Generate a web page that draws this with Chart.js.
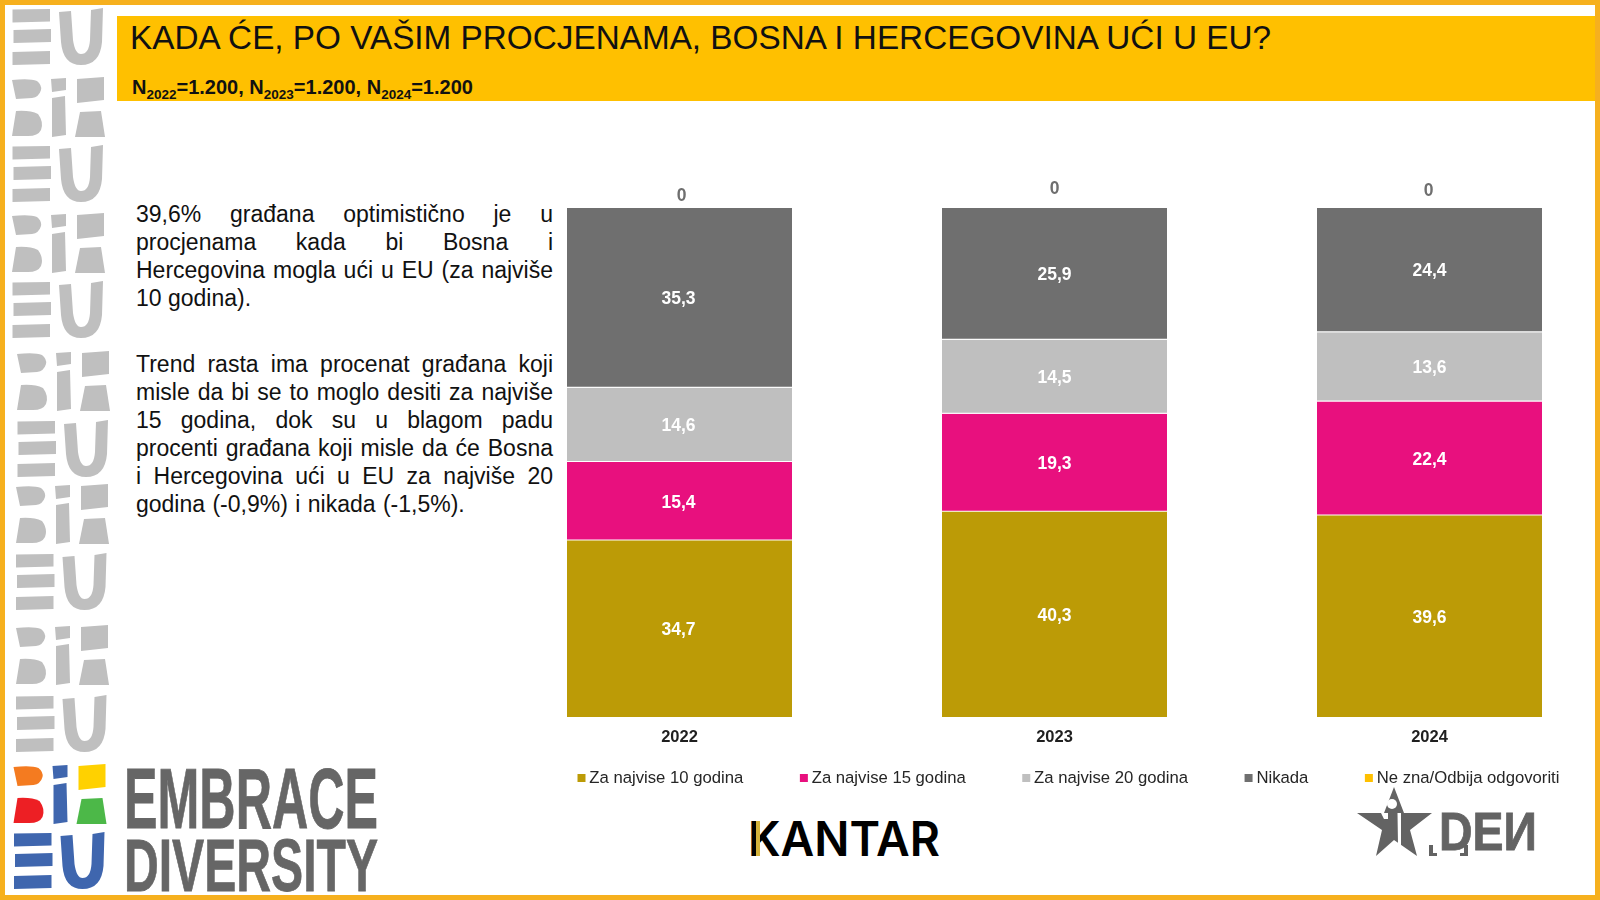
<!DOCTYPE html>
<html>
<head>
<meta charset="utf-8">
<title>Kada će BiH ući u EU</title>
<script src="https://cdn.jsdelivr.net/npm/chart.js@4"></script>
<style>
  html, body { margin: 0; padding: 0; width: 1600px; height: 900px; overflow: hidden; background: #fff; font-family: "Liberation Sans", Arial, sans-serif; }
  #frame { position: absolute; left: 0; top: 0; width: 1590px; height: 890px; border: 5px solid #F6B01E; }
  #header { position: absolute; left: 117px; top: 16px; width: 1478px; height: 85px; background: #FFC000; }
  #title { position: absolute; left: 13px; top: 3px; font-size: 33.3px; line-height: 38px; color: #111; white-space: nowrap; }
  #subtitle { position: absolute; left: 15px; top: 59px; font-size: 20px; line-height: 24px; font-weight: bold; color: #111; white-space: nowrap; }
  #subtitle sub { font-size: 13.5px; line-height: 0; }
  #note { position: absolute; left: 136px; top: 200px; width: 417px; font-size: 23px; line-height: 28px; color: #111; }
  #note span { display: block; white-space: nowrap; }
  #note span.j { white-space: normal; text-align: justify; text-align-last: justify; }
  #note .gap { height: 38px; }
  #deco { position: absolute; left: 0; top: 0; }
  #chartWrap { position: absolute; left: 492px; top: 0; width: 1200px; height: 900px; }
</style>
</head>
<body>
<div id="frame"></div>
<div id="header">
  <div id="title">KADA ĆE, PO VAŠIM PROCJENAMA, BOSNA I HERCEGOVINA UĆI U EU?</div>
  <div id="subtitle">N<sub>2022</sub>=1.200, N<sub>2023</sub>=1.200, N<sub>2024</sub>=1.200</div>
</div>
<div id="note">
  <span class="j">39,6% građana optimistično je u</span>
  <span class="j">procjenama kada bi Bosna i</span>
  <span class="j">Hercegovina mogla ući u EU (za najviše</span>
  <span>10 godina).</span>
  <div class="gap"></div>
  <span class="j">Trend rasta ima procenat građana koji</span>
  <span class="j">misle da bi se to moglo desiti za najviše</span>
  <span class="j">15 godina, dok su u blagom padu</span>
  <span class="j">procenti građana koji misle da će Bosna</span>
  <span class="j">i Hercegovina ući u EU za najviše 20</span>
  <span style="word-spacing:1px">godina (-0,9%) i nikada (-1,5%).</span>
</div>

<svg id="deco" width="1600" height="900" xmlns="http://www.w3.org/2000/svg">
  <defs>
    <g id="eu">
      <path d="M12.5 9.5L50 9V21.5L12.5 22.5Z M13.5 30L51 29V42L13.5 43Z M12.5 52L50 51V64L12.5 65Z"/>
      <path d="M59 12L71 11L73 40Q75 54 81 54Q89 54 90 40L91 10L103 8L102 42Q100 65 81 65Q63 65 61 42Z"/>
    </g>
    <g id="bih">
      <path d="M12 80Q30 78 37 81Q42 85 41 90Q39 97 32 98L16 99Z M16 111Q30 110 38 114Q44 122 41 130Q38 136 28 136L12 136Z"/>
      <path d="M51 79L66 78V90L52 92Z M52 98L65 96L66 135L52 137Z"/>
      <path d="M77 79L104 77V100L77 103Z"/>
      <path d="M80 112L101 111L105 137H75Z"/>
    </g>
  </defs>
  <g fill="#BFBFBF">
    <use href="#eu"/>
    <use href="#bih"/>
    <use href="#eu" y="137"/>
    <use href="#bih" y="136"/>
    <use href="#eu" y="273"/>
    <use href="#bih" x="5" y="274"/>
    <use href="#eu" x="5" y="412"/>
    <use href="#bih" x="4" y="407"/>
    <use href="#eu" x="3.5" y="545"/>
    <use href="#bih" x="4" y="548"/>
    <use href="#eu" x="3.5" y="687"/>
  </g>
  <!-- coloured logo -->
  <g transform="translate(1.5 687)">
    <path fill="#F47B20" d="M12 80Q30 78 37 81Q42 85 41 90Q39 97 32 98L16 99Z"/>
    <path fill="#ED1F24" d="M16 111Q30 110 38 114Q44 122 41 130Q38 136 28 136L12 136Z"/>
    <path fill="#3F66AE" d="M51 79L66 78V90L52 92Z M52 98L65 96L66 135L52 137Z"/>
    <path fill="#FFD100" d="M77 79L104 77V100L77 103Z"/>
    <path fill="#4CB848" d="M80 112L101 111L105 137H75Z"/>
  </g>
  <g transform="translate(1.5 824)" fill="#3F66AE">
    <path d="M12.5 9.5L50 9V21.5L12.5 22.5Z M13.5 30L51 29V42L13.5 43Z M12.5 52L50 51V64L12.5 65Z"/>
    <path d="M59 12L71 11L73 40Q75 54 81 54Q89 54 90 40L91 10L103 8L102 42Q100 65 81 65Q63 65 61 42Z"/>
  </g>
  <text x="124" y="828" font-family="Liberation Sans" font-weight="bold" font-size="86" fill="#666" stroke="#666" stroke-width="0.8" textLength="254" lengthAdjust="spacingAndGlyphs">EMBRACE</text>
  <text x="124" y="891" font-family="Liberation Sans" font-weight="bold" font-size="75" fill="#666" stroke="#666" stroke-width="0.8" textLength="254" lengthAdjust="spacingAndGlyphs">DIVERSITY</text>
  <!-- KANTAR -->
  <text x="748" y="856" font-family="Inter" font-weight="600" font-size="48" fill="#000" textLength="192" lengthAdjust="spacingAndGlyphs">KANTAR</text>
  <rect x="752" y="821" width="4" height="35" fill="#000"/>
  <rect x="756" y="821" width="4" height="35" fill="#D4B23A"/>
  <!-- DEN -->
  <path fill="#636363" d="M1394 787L1404 813H1432L1410 830L1417 856L1394 840L1376 856L1382 830L1357 813H1384Z"/>
  <circle cx="1392" cy="804" r="5" fill="#fff"/>
  <path fill="#fff" d="M1397.5 813H1401V848L1398 845Z M1381 813H1388V819H1384Z"/>
  <path fill="#636363" d="M1429 845H1433V853H1437V856H1429Z M1464 845H1468V856H1460V853H1464Z"/>
  <text x="1439" y="850" font-family="Liberation Sans" font-weight="bold" font-size="53" fill="#636363" stroke="#636363" stroke-width="0.8" textLength="98" lengthAdjust="spacingAndGlyphs">DEИ</text>
</svg>

<div id="chartWrap"><canvas id="chart" width="1200" height="900"></canvas></div>

<script>
const years = ["2022", "2023", "2024"];
const za10 = [34.7, 40.3, 39.6];
const za15 = [15.4, 19.3, 22.4];
const za20 = [14.6, 14.5, 13.6];
const nikada = [35.3, 25.9, 24.4];
const neZna = [0, 0, 0];

// the labels are not quite centred in the original
const labelShift = [-1, 0, 0];
const zeroLift = [12, 19, 17];
const zeroShift = [2, 0, -1];

const fmt = v => v === 0 ? "0" : v.toFixed(1).replace(".", ",");

// small square for the legend, the gap to the text is tighter than Chart.js' default
function marker(color) {
  const c = document.createElement("canvas");
  c.width = 12;
  c.height = 8;
  const g = c.getContext("2d");
  g.fillStyle = color;
  g.fillRect(3, 0, 8, 8);
  return c;
}

// value labels inside the bars (no datalabels plugin available)
const barLabels = {
  id: "barLabels",
  afterDatasetsDraw(chart) {
    const ctx = chart.ctx;
    ctx.save();
    ctx.textAlign = "center";
    ctx.textBaseline = "middle";
    ctx.font = "bold 17.5px 'Liberation Sans'";
    chart.data.datasets.forEach((ds, i) => {
      chart.getDatasetMeta(i).data.forEach((bar, j) => {
        const v = ds.data[j];
        if (v === 0) {
          ctx.fillStyle = "#6F6F6F";
          ctx.fillText(fmt(v), bar.x + zeroShift[j], bar.y - zeroLift[j]);
        } else {
          ctx.fillStyle = "#FFFFFF";
          ctx.fillText(fmt(v), bar.x + labelShift[j], (bar.y + bar.base) / 2 + 1.5);
        }
      });
    });
    ctx.restore();
  }
};

// legend needs big gaps between items, so move it after layout instead of reserving the space
const legendPlace = {
  id: "legendPlace",
  afterLayout(chart) {
    const lg = chart.legend;
    lg.left = 29;
    lg.top = 711;
    lg.bottom = 900;
  }
};

new Chart(document.getElementById("chart"), {
  type: "bar",
  data: {
    labels: years,
    datasets: [
      { label: "Za najvise 10 godina", data: za10, backgroundColor: "#BC9B06", borderWidth: 0, pointStyle: marker("#BC9B06") },
      { label: "Za najvise 15 godina", data: za15, backgroundColor: "#E8107E", borderColor: "#fff", borderWidth: { bottom: 1 }, borderSkipped: false, pointStyle: marker("#E8107E") },
      { label: "Za najvise 20 godina", data: za20, backgroundColor: "#BFBFBF", borderColor: "#fff", borderWidth: { bottom: 1 }, borderSkipped: false, pointStyle: marker("#BFBFBF") },
      { label: "Nikada", data: nikada, backgroundColor: "#6F6F6F", borderColor: "#fff", borderWidth: { bottom: 1 }, borderSkipped: false, pointStyle: marker("#6F6F6F") },
      { label: "Ne zna/Odbija odgovoriti", data: neZna, backgroundColor: "#FFC000", borderWidth: 0, pointStyle: marker("#FFC000") }
    ]
  },
  options: {
    responsive: false,
    animation: false,
    barPercentage: 0.6,
    categoryPercentage: 1,
    layout: { padding: { top: 208, bottom: 133 } },
    plugins: {
      tooltip: { enabled: false },
      legend: {
        position: "bottom",
        align: "start",
        maxHeight: 20,
        labels: {
          padding: 59,
          boxHeight: 8,
          usePointStyle: true,
          pointStyleWidth: 1,
          color: "#262626",
          font: { family: "Liberation Sans", size: 16.7 }
        }
      }
    },
    scales: {
      x: {
        stacked: true,
        grid: { display: false },
        border: { display: false },
        afterFit: s => { s.height = 30; },
        ticks: {
          padding: 3,
          maxRotation: 0,
          color: "#1F1F1F",
          font: { family: "Liberation Sans", size: 16.5, weight: "bold" }
        }
      },
      y: { stacked: true, display: false, min: 0, max: 100 },
      // empty axis, only there so the chart area stops short of the canvas edge and the legend keeps one row
      y2: {
        position: "right",
        grid: { display: false },
        border: { display: false },
        ticks: { display: false },
        afterFit: s => { s.width = 75; }
      }
    }
  },
  plugins: [barLabels, legendPlace]
});
</script>
</body>
</html>
